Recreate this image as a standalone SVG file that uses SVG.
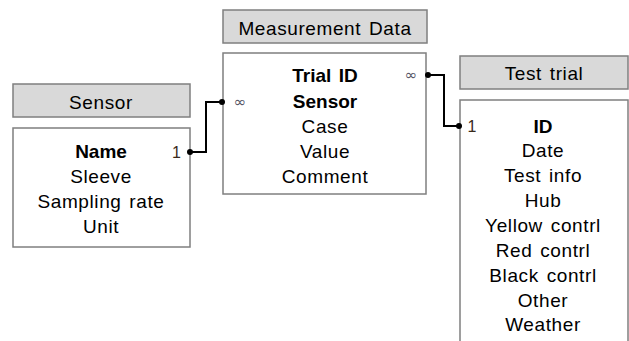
<svg xmlns="http://www.w3.org/2000/svg" width="629" height="341" viewBox="0 0 629 341">
  <style>
    .hdr { fill: #d9d9d9; stroke: #7f7f7f; stroke-width: 1.5; }
    .body { fill: #ffffff; stroke: #7f7f7f; stroke-width: 1.5; }
    text { font-family: "Liberation Sans", Arial, sans-serif; font-size: 19px; fill: #000; text-anchor: middle; letter-spacing: 0.6px; word-spacing: 2px; }
    .key { font-weight: bold; letter-spacing: 0; }
    .card { font-size: 16px; fill: #3a2a1a; letter-spacing: 0; }
    .inf { font-family: "DejaVu Sans", sans-serif; font-size: 15px; fill: #556; }
    .link { fill: none; stroke: #000; stroke-width: 2; }
    .dot { fill: #000; }
  </style>

  <rect width="629" height="341" fill="#ffffff"/>

  <!-- Sensor table -->
  <g id="sensor">
    <rect class="hdr" x="13" y="84" width="177" height="33"/>
    <text x="101" y="109">Sensor</text>
    <rect class="body" x="13" y="128" width="177" height="119"/>
    <text class="key" x="101" y="158">Name</text>
    <text x="101" y="183">Sleeve</text>
    <text x="101" y="208">Sampling rate</text>
    <text x="101" y="233">Unit</text>
  </g>

  <!-- Measurement Data table -->
  <g id="measurement-data">
    <rect class="hdr" x="223" y="10" width="204" height="33"/>
    <text x="325" y="34.5">Measurement Data</text>
    <rect class="body" x="223" y="53" width="203" height="141"/>
    <text class="key" x="325" y="82">Trial ID</text>
    <text class="key" x="325" y="108">Sensor</text>
    <text x="325" y="133">Case</text>
    <text x="325" y="158">Value</text>
    <text x="325" y="183">Comment</text>
  </g>

  <!-- Test trial table -->
  <g id="test-trial">
    <rect class="hdr" x="460" y="56" width="168" height="33"/>
    <text x="544" y="80">Test trial</text>
    <rect class="body" x="460" y="100" width="168" height="250"/>
    <text class="key" x="543" y="133">ID</text>
    <text x="543" y="157">Date</text>
    <text x="543" y="182">Test info</text>
    <text x="543" y="207">Hub</text>
    <text x="543" y="232">Yellow contrl</text>
    <text x="543" y="257">Red contrl</text>
    <text x="543" y="282">Black contrl</text>
    <text x="543" y="307">Other</text>
    <text x="543" y="331">Weather</text>
  </g>

  <!-- Relationships -->
  <g id="connectors">
    <polyline class="link" points="190,152 206,152 206,102 222,102"/>
    <circle class="dot" cx="190" cy="152" r="3"/>
    <circle class="dot" cx="222" cy="102" r="3"/>
    <text class="card" x="176.5" y="158">1</text>
    <text class="card inf" x="240" y="107">∞</text>

    <polyline class="link" points="428,75 444,75 444,126 459,126"/>
    <circle class="dot" cx="428" cy="75" r="3"/>
    <circle class="dot" cx="459" cy="126" r="3"/>
    <text class="card inf" x="411" y="80">∞</text>
    <text class="card" x="472" y="132">1</text>
  </g>
</svg>
